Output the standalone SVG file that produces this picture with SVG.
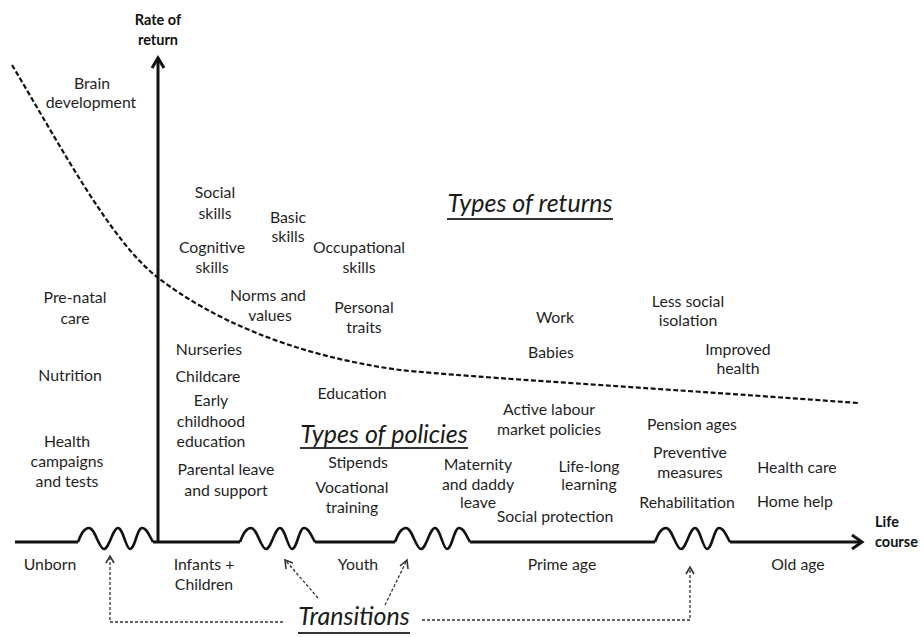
<svg xmlns="http://www.w3.org/2000/svg" width="924" height="637" viewBox="0 0 924 637">
<style>
text{font-family:Lato,"Liberation Sans",sans-serif;font-size:15.8px;fill:#1f1f1f;text-anchor:middle}
.b{font-weight:bold;font-size:14.5px;fill:#111}
.l{text-anchor:start}
.t{font-style:italic;font-size:25px;fill:#1a1a1a}
.ul{stroke:#333;stroke-width:2;fill:none}
.ax{stroke:#111;stroke-width:3;fill:none;stroke-linecap:butt}
.wv{stroke:#111;stroke-width:2.6;fill:none}
.cur{stroke:#111;stroke-width:2.2;fill:none;stroke-dasharray:5 2.5}
.tr{stroke:#333;stroke-width:1.3;fill:none;stroke-dasharray:3 2}
.ah{stroke:#111;stroke-width:3;fill:none;stroke-linejoin:miter}
.sah{stroke:#333;stroke-width:1.6;fill:none}
</style>
<defs>
<path id="wave" d="M0,0 C3,-8 6,-14 11,-14 C17,-14 21,7 26,7 C31,7 35,-14 40,-14 C45,-14 48,7 52,7 C57,7 59,-14 64,-14 C69,-14 72,-5 75,0"/>
</defs>
<rect width="924" height="637" fill="#fff"/>
<g id="connectors">
<path class="cur" d="M12,65 C60,145 110,240 157,277 C210,318 290,355 400,370 C480,378 640,387 858,403"/>
<line class="ax" x1="158" y1="542" x2="158" y2="60"/>
<polyline class="ah" points="152,68 158,58 164,68"/>
<path class="ax" d="M15,542 H78 M153,542 H240 M315,542 H395 M470,542 H655 M730,542 H860"/>
<polyline class="ah" points="852,535 862,542 852,549"/>
<use href="#wave" class="wv" x="78" y="542"/>
<use href="#wave" class="wv" x="240" y="542"/>
<use href="#wave" class="wv" x="395" y="542"/>
<use href="#wave" class="wv" x="655" y="542"/>
<path class="tr" d="M283,622 H110 V558"/>
<polyline class="sah" points="106,563 110,556 114,563"/>
<path class="tr" d="M422,620 H690 V569"/>
<polyline class="sah" points="686,574 690,567 694,574"/>
<line class="tr" x1="318" y1="598" x2="286" y2="561"/>
<polyline class="sah" points="286,569 285,560 293,563"/>
<line class="tr" x1="385" y1="605" x2="406" y2="562"/>
<polyline class="sah" points="400,566 407,560 408,569"/>
</g>
<g id="axis-labels">
<g id="rate-of-return"><text class="b" x="158" y="25">Rate of</text><text class="b" x="158" y="45">return</text></g>
<g id="life-course"><text class="b l" x="875" y="527">Life</text><text class="b l" x="875" y="547">course</text></g>
</g>
<g id="types-of-returns"><text class="t" x="530" y="212">Types of returns</text><line class="ul" x1="447" y1="219" x2="613" y2="219"/></g>
<g id="types-of-policies"><text class="t" x="384" y="443">Types of policies</text><line class="ul" x1="300" y1="448" x2="468" y2="448"/></g>
<g id="transitions"><text class="t" x="354" y="625">Transitions</text><line class="ul" x1="298" y1="633" x2="410" y2="633"/></g>
<g id="brain-development"><text x="92" y="89">Brain</text><text x="91" y="108">development</text></g>
<g id="social-skills"><text x="215" y="198">Social</text><text x="215" y="219">skills</text></g>
<g id="basic-skills"><text x="288" y="223">Basic</text><text x="288" y="242">skills</text></g>
<g id="cognitive-skills"><text x="212" y="253">Cognitive</text><text x="212" y="273">skills</text></g>
<g id="occupational-skills"><text x="359" y="253">Occupational</text><text x="359" y="273">skills</text></g>
<g id="norms-values"><text x="268" y="301">Norms and</text><text x="270" y="321">values</text></g>
<g id="personal-traits"><text x="364" y="313">Personal</text><text x="364" y="333">traits</text></g>
<g id="work"><text x="555" y="323">Work</text></g>
<g id="babies"><text x="551" y="358">Babies</text></g>
<g id="less-social-isolation"><text x="688" y="307">Less social</text><text x="688" y="326">isolation</text></g>
<g id="improved-health"><text x="738" y="355">Improved</text><text x="738" y="374">health</text></g>
<g id="pre-natal-care"><text x="75" y="303">Pre-natal</text><text x="75" y="324">care</text></g>
<g id="nutrition"><text x="70" y="381">Nutrition</text></g>
<g id="health-campaigns"><text x="67" y="447">Health</text><text x="67" y="467">campaigns</text><text x="67" y="487">and tests</text></g>
<g id="nurseries"><text x="209" y="355">Nurseries</text></g>
<g id="childcare"><text x="208" y="382">Childcare</text></g>
<g id="early-childhood-education"><text x="211" y="406">Early</text><text x="211" y="427">childhood</text><text x="211" y="447">education</text></g>
<g id="parental-leave"><text x="226" y="475">Parental leave</text><text x="226" y="496">and support</text></g>
<g id="education"><text x="352" y="399">Education</text></g>
<g id="stipends"><text x="358" y="468">Stipends</text></g>
<g id="vocational-training"><text x="352" y="493">Vocational</text><text x="352" y="513">training</text></g>
<g id="active-labour"><text x="549" y="415">Active labour</text><text x="549" y="435">market policies</text></g>
<g id="maternity"><text x="478" y="470">Maternity</text><text x="478" y="490">and daddy</text><text x="478" y="508">leave</text></g>
<g id="life-long-learning"><text x="589" y="472">Life-long</text><text x="589" y="490">learning</text></g>
<g id="social-protection"><text x="555" y="522">Social protection</text></g>
<g id="pension-ages"><text x="692" y="430">Pension ages</text></g>
<g id="preventive-measures"><text x="690" y="458">Preventive</text><text x="690" y="478">measures</text></g>
<g id="rehabilitation"><text x="687" y="508">Rehabilitation</text></g>
<g id="health-care"><text x="797" y="473">Health care</text></g>
<g id="home-help"><text x="795" y="507">Home help</text></g>
<g id="unborn"><text x="50" y="570">Unborn</text></g>
<g id="infants-children"><text x="204" y="570">Infants +</text><text x="204" y="590">Children</text></g>
<g id="youth"><text x="358" y="570">Youth</text></g>
<g id="prime-age"><text x="562" y="570">Prime age</text></g>
<g id="old-age"><text x="798" y="570">Old age</text></g>
</svg>
